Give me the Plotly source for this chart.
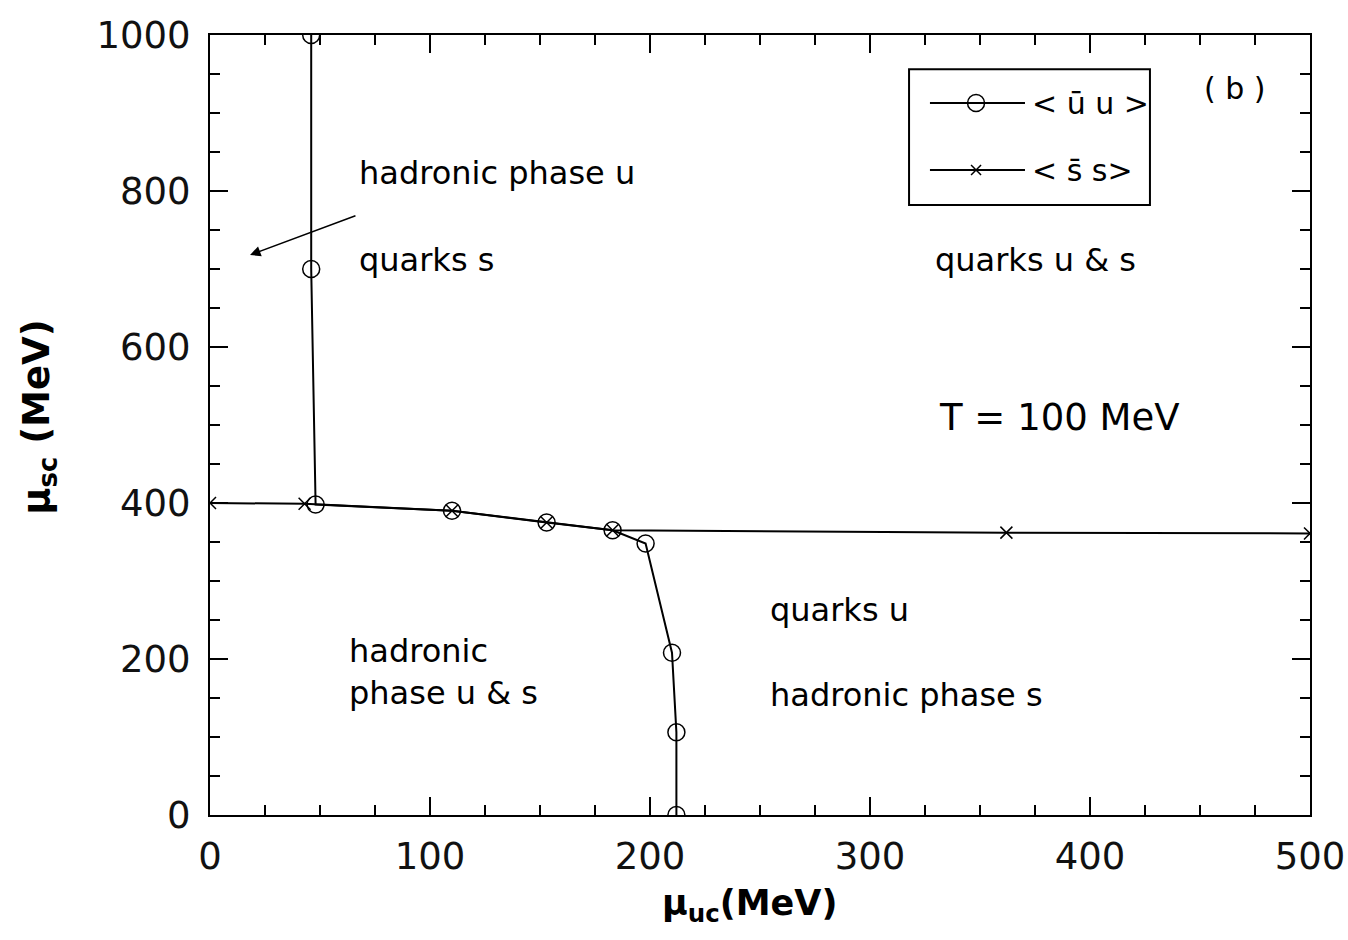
import plotly.graph_objects as go

# <u-bar u> transition points
uu_x = [46, 46, 48, 110, 153, 183, 198, 210, 212, 212]
uu_y = [1000, 700, 398, 390, 375, 365, 348, 208, 106, 0]
# <s-bar s> transition points
ss_x = [0, 43, 110, 153, 183, 362, 500]
ss_y = [400, 399, 390, 375, 365, 362, 361]
legend_labels = ["&lt; ū u &gt;", "&lt; s̄ s&gt;"]

FONT = "DejaVu Sans"

fig = go.Figure()
fig.add_trace(go.Scatter(
    x=uu_x, y=uu_y, mode="lines+markers", name=legend_labels[0],
    line=dict(color="black", width=2),
    marker=dict(symbol="circle-open", size=17, color="black", line=dict(width=1.5)),
))
fig.add_trace(go.Scatter(
    x=ss_x, y=ss_y, mode="lines+markers", name=legend_labels[1],
    line=dict(color="black", width=2),
    marker=dict(symbol="x-thin-open", size=12, color="black", line=dict(width=1.5)),
))

axis_common = dict(
    showline=True, linecolor="black", linewidth=2, mirror="allticks",
    ticks="inside", ticklen=18, tickwidth=2, tickcolor="black",
    showgrid=False, zeroline=False, automargin=False,
    tickfont=dict(family=FONT, size=37, color="#111"),
)
fig.update_xaxes(range=[0, 500], dtick=100, tick0=0, ticklabelstandoff=8,
                 ticklabeloverflow="allow",
                 minor=dict(dtick=25, ticks="inside", ticklen=10, tickwidth=2, tickcolor="black"),
                 **axis_common)
fig.update_yaxes(range=[0, 1000], dtick=200, tick0=0, ticklabelstandoff=10,
                 ticklabeloverflow="allow",
                 minor=dict(dtick=50, ticks="inside", ticklen=10, tickwidth=2, tickcolor="black"),
                 **axis_common)

txt = dict(family=FONT, size=32, color="black")
ann = [
    ("hadronic phase u", 66.8, 823),
    ("quarks s", 66.8, 711),
    ("quarks u &amp; s", 328.6, 711),
    ("quarks u", 253.6, 263),
    ("hadronic phase s", 253.6, 154),
    ("hadronic", 62.3, 210),
    ("phase u &amp; s", 62.3, 156),
]
for t, x, y in ann:
    fig.add_annotation(x=x, y=y, text=t, showarrow=False, xanchor="left", yanchor="middle", font=txt)
fig.add_annotation(x=330.5, y=509, text="T = 100 MeV", showarrow=False,
                   xanchor="left", yanchor="middle", font=dict(family=FONT, size=37, color="black"))
fig.add_annotation(x=466, y=932, text="( b )", showarrow=False,
                   xanchor="center", yanchor="middle", font=dict(family=FONT, size=30, color="black"))
# arrow
fig.add_annotation(x=18.2, y=718, ax=66.8, ay=769, axref="x", ayref="y", xref="x", yref="y",
                   text="", showarrow=True, arrowhead=2, arrowsize=1.4, arrowwidth=1.5, arrowcolor="black")

# axis titles
fig.add_annotation(xref="paper", yref="paper", x=0.49, y=-0.085, yanchor="top", xanchor="center",
                   text="<b>μ<sub>uc</sub>(MeV)</b>", showarrow=False,
                   font=dict(family=FONT, size=35, color="black"))
fig.add_annotation(xref="paper", yref="paper", x=-0.155, y=0.51, xanchor="center", yanchor="middle",
                   textangle=-90, text="<b>μ<sub>sc</sub> (MeV)</b>", showarrow=False,
                   font=dict(family=FONT, size=37, color="black"))

# manual legend box (paper coords)
lx0, lx1, ly0, ly1 = 0.6355, 0.8545, 0.782, 0.956
fig.add_shape(type="rect", xref="paper", yref="paper", x0=lx0, x1=lx1, y0=ly0, y1=ly1,
              line=dict(color="black", width=2), fillcolor="rgba(0,0,0,0)")
rows = [0.9128, 0.8269]
for i, yy in enumerate(rows):
    fig.add_shape(type="line", xref="paper", yref="paper", x0=0.6545, x1=0.7409, y0=yy, y1=yy,
                  line=dict(color="black", width=2))
    fig.add_annotation(xref="paper", yref="paper", x=0.7455, y=yy, xanchor="left", yanchor="middle",
                       text=legend_labels[i], showarrow=False, font=dict(family=FONT, size=30, color="black"))
fig.add_shape(type="circle", xref="paper", yref="paper", xsizemode="pixel", ysizemode="pixel",
              xanchor=0.6964, yanchor=rows[0], x0=-8.5, x1=8.5, y0=-8.5, y1=8.5,
              line=dict(color="black", width=1.5))
fig.add_shape(type="path", xref="paper", yref="paper", xsizemode="pixel", ysizemode="pixel",
              xanchor=0.6964, yanchor=rows[1], path="M-5,-5L5,5M-5,5L5,-5",
              line=dict(color="black", width=1.5))

fig.update_layout(
    width=1348, height=940,
    margin=dict(l=210, r=38, t=35, b=125),
    plot_bgcolor="white", paper_bgcolor="white",
    showlegend=False,
)

fig.write_html("out.html")
